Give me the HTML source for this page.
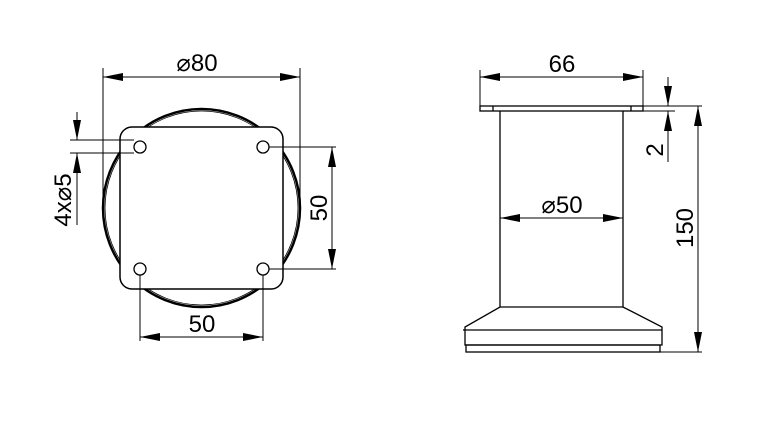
<!DOCTYPE html>
<html><head><meta charset="utf-8"><style>body{margin:0;background:#fff}svg{display:block}</style></head><body>
<svg width="778" height="424" viewBox="0 0 778 424" xmlns="http://www.w3.org/2000/svg" font-family="Liberation Sans, sans-serif" fill="none" stroke="#000">
<defs>
<marker id="a" viewBox="0 0 20 8" refX="20" refY="4" markerWidth="20" markerHeight="8" markerUnits="userSpaceOnUse" orient="auto-start-reverse"><path d="M0,0L20,4L0,8z" fill="#000" stroke="none"/></marker>
</defs>
<ellipse cx="201.5" cy="208" rx="98.5" ry="99" stroke-width="2.5"/>
<ellipse cx="201.5" cy="208" rx="96.5" ry="97" stroke-width="0.8"/>
<rect x="120" y="127" width="163" height="162" rx="12" fill="#fff" stroke-width="1.5"/>
<g stroke-width="1.3" fill="#fff">
<circle cx="140" cy="147" r="6"/><circle cx="263" cy="147" r="6"/><circle cx="140" cy="269" r="6"/><circle cx="263" cy="269" r="6"/>
</g>
<g stroke-width="1">
<line x1="103" y1="68" x2="103" y2="208"/><line x1="300" y1="68" x2="300" y2="208"/>
<line x1="103" y1="77" x2="300" y2="77" marker-start="url(#a)" marker-end="url(#a)"/>
<line x1="70" y1="140" x2="134" y2="140"/><line x1="70" y1="153" x2="134" y2="153"/>
<line x1="77" y1="112" x2="77" y2="140" marker-end="url(#a)"/>
<line x1="77" y1="225" x2="77" y2="153" marker-end="url(#a)"/>
<line x1="269" y1="147" x2="336" y2="147"/><line x1="269" y1="269" x2="336" y2="269"/>
<line x1="332" y1="147" x2="332" y2="269" marker-start="url(#a)" marker-end="url(#a)"/>
<line x1="140" y1="275" x2="140" y2="341"/><line x1="263" y1="275" x2="263" y2="341"/>
<line x1="140" y1="337" x2="263" y2="337" marker-start="url(#a)" marker-end="url(#a)"/>
</g>
<g fill="#000" stroke="none" font-size="24">
<text x="197" y="71" text-anchor="middle">⌀80</text>
<text x="202" y="332" text-anchor="middle">50</text>
<text transform="translate(327,208) rotate(-90)" text-anchor="middle">50</text>
<text transform="translate(71,200) rotate(-90)" text-anchor="middle">4x⌀5</text>
</g>
<g stroke-width="1.3">
<rect x="480" y="106" width="163" height="5"/>
<line x1="493" y1="106" x2="493" y2="111"/><line x1="631" y1="106" x2="631" y2="111"/>
<line x1="500" y1="111" x2="500" y2="307"/><line x1="623" y1="111" x2="623" y2="307"/>
<path d="M500,307L623,307L662,327L662,345L465,345L465,327Z"/>
<line x1="463" y1="330" x2="662" y2="330"/>
<rect x="466" y="345" width="194" height="7"/>
</g>
<g stroke-width="1">
<line x1="480" y1="70" x2="480" y2="106"/><line x1="643" y1="70" x2="643" y2="106"/>
<line x1="480" y1="77" x2="643" y2="77" marker-start="url(#a)" marker-end="url(#a)"/>
<line x1="500" y1="218" x2="623" y2="218" marker-start="url(#a)" marker-end="url(#a)"/>
<line x1="643" y1="106" x2="702" y2="106"/><line x1="643" y1="111" x2="675" y2="111"/>
<line x1="660" y1="352" x2="702" y2="352"/>
<line x1="668" y1="77" x2="668" y2="106" marker-end="url(#a)"/>
<line x1="668" y1="162" x2="668" y2="111" marker-end="url(#a)"/>
<line x1="698" y1="106" x2="698" y2="352" marker-start="url(#a)" marker-end="url(#a)"/>
</g>
<g fill="#000" stroke="none" font-size="24">
<text x="562" y="72" text-anchor="middle">66</text>
<text x="562" y="213" text-anchor="middle">⌀50</text>
<text transform="translate(663,150) rotate(-90)" text-anchor="middle">2</text>
<text transform="translate(693,228) rotate(-90)" text-anchor="middle">150</text>
</g>
</svg>
</body></html>
